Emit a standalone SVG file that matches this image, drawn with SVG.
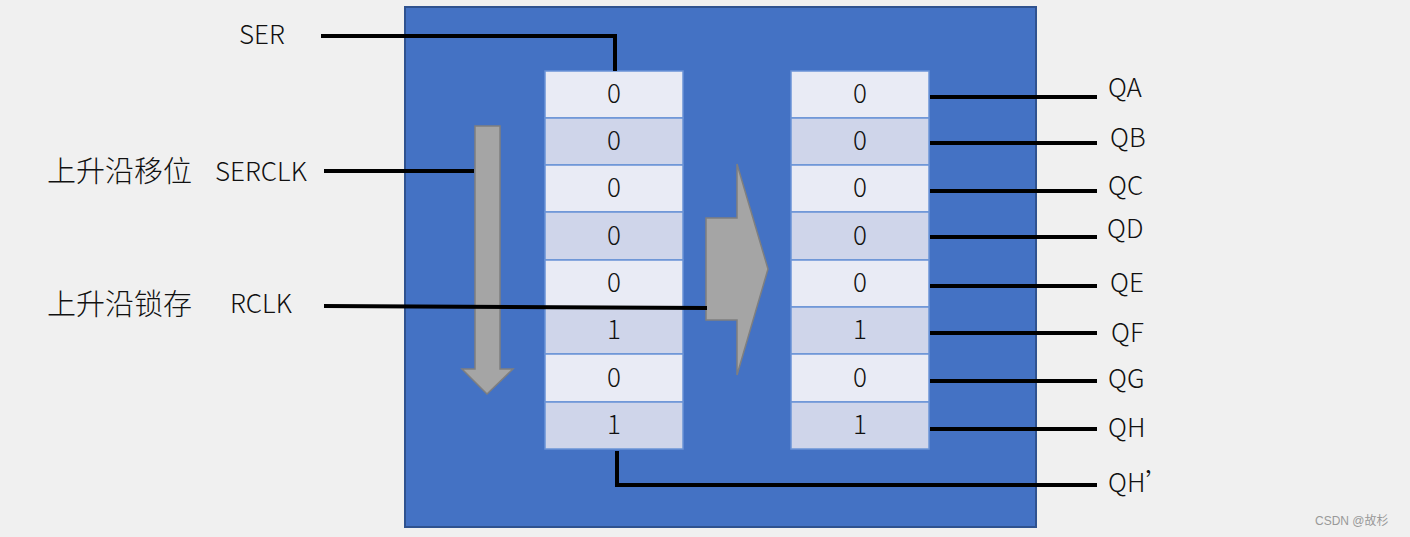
<svg xmlns="http://www.w3.org/2000/svg" width="1410" height="537" viewBox="0 0 1410 537">
<style>
  .lbl{font-family:"Noto Sans CJK SC","Noto Sans",sans-serif;font-size:26px;font-weight:300;fill:#111}
  .cn{font-family:"Noto Sans CJK SC",sans-serif;font-size:29px;font-weight:300;fill:#111}
  .dig{font-family:"Noto Sans CJK SC","Noto Sans",sans-serif;font-size:26px;font-weight:300;fill:#111;text-anchor:middle}
  .c1{fill:#e9ebf5;stroke:#6a93d6;stroke-width:1.5}
  .c2{fill:#cfd5ea;stroke:#6a93d6;stroke-width:1.5}
  .wire{fill:none;stroke:#000;stroke-width:4}
  .arr{fill:#a5a5a5;stroke:#7f7f7f;stroke-width:1.5}
</style>
<rect width="1410" height="537" fill="#f0f0f0"/>
<g id="chip">
  <rect x="405" y="7" width="631" height="520" fill="#4472c4" stroke="#2f528f" stroke-width="2"/>
</g>
<g id="shift-register">
  <rect class="c1" x="545" y="71" width="138" height="47"/>
  <rect class="c2" x="545" y="118" width="138" height="47"/>
  <rect class="c1" x="545" y="165" width="138" height="47"/>
  <rect class="c2" x="545" y="212" width="138" height="48"/>
  <rect class="c1" x="545" y="260" width="138" height="47"/>
  <rect class="c2" x="545" y="307" width="138" height="47"/>
  <rect class="c1" x="545" y="354" width="138" height="48"/>
  <rect class="c2" x="545" y="402" width="138" height="47"/>
  <text class="dig" x="614" y="103">0</text>
  <text class="dig" x="614" y="150">0</text>
  <text class="dig" x="614" y="197">0</text>
  <text class="dig" x="614" y="245">0</text>
  <text class="dig" x="614" y="292">0</text>
  <text class="dig" x="614" y="339">1</text>
  <text class="dig" x="614" y="387">0</text>
  <text class="dig" x="614" y="434">1</text>
</g>
<g id="latch-register">
  <rect class="c1" x="791" y="71" width="138" height="47"/>
  <rect class="c2" x="791" y="118" width="138" height="47"/>
  <rect class="c1" x="791" y="165" width="138" height="47"/>
  <rect class="c2" x="791" y="212" width="138" height="48"/>
  <rect class="c1" x="791" y="260" width="138" height="47"/>
  <rect class="c2" x="791" y="307" width="138" height="47"/>
  <rect class="c1" x="791" y="354" width="138" height="48"/>
  <rect class="c2" x="791" y="402" width="138" height="47"/>
  <text class="dig" x="860" y="103">0</text>
  <text class="dig" x="860" y="150">0</text>
  <text class="dig" x="860" y="197">0</text>
  <text class="dig" x="860" y="245">0</text>
  <text class="dig" x="860" y="292">0</text>
  <text class="dig" x="860" y="339">1</text>
  <text class="dig" x="860" y="387">0</text>
  <text class="dig" x="860" y="434">1</text>
</g>
<g id="shift-arrow">
  <polygon class="arr" points="475,126 500,126 500,369 513,369 487,394 462,369 475,369"/>
</g>
<g id="latch-arrow">
  <polygon class="arr" points="706,218 737,218 737,164 768,269 737,375 737,320 706,320"/>
</g>
<g id="connectors">
  <polyline class="wire" points="321,36 615,36 615,71"/>
  <line class="wire" x1="324" y1="171" x2="474" y2="171"/>
  <line class="wire" x1="324" y1="306" x2="707" y2="308"/>
  <line class="wire" x1="930" y1="97" x2="1097" y2="97"/>
  <line class="wire" x1="930" y1="143" x2="1097" y2="143"/>
  <line class="wire" x1="930" y1="191" x2="1097" y2="191"/>
  <line class="wire" x1="930" y1="237" x2="1097" y2="237"/>
  <line class="wire" x1="930" y1="286" x2="1097" y2="286"/>
  <line class="wire" x1="930" y1="333" x2="1097" y2="333"/>
  <line class="wire" x1="930" y1="381" x2="1097" y2="381"/>
  <line class="wire" x1="930" y1="429" x2="1097" y2="429"/>
  <polyline class="wire" points="617,451 617,485 1097,485"/>
</g>
<g id="inputs">
  <text class="lbl" x="239" y="44">SER</text>
  <text class="cn" x="47" y="182">上升沿移位</text>
  <text class="lbl" x="215" y="181">SERCLK</text>
  <text class="cn" x="47" y="315">上升沿锁存</text>
  <text class="lbl" x="230" y="313">RCLK</text>
</g>
<g id="outputs">
  <text class="lbl" x="1108" y="97">QA</text>
  <text class="lbl" x="1110" y="147">QB</text>
  <text class="lbl" x="1108" y="195">QC</text>
  <text class="lbl" x="1107" y="238">QD</text>
  <text class="lbl" x="1110" y="292">QE</text>
  <text class="lbl" x="1111" y="342">QF</text>
  <text class="lbl" x="1108" y="388">QG</text>
  <text class="lbl" x="1108" y="437">QH</text>
  <text class="lbl" x="1108" y="492">QH’</text>
</g>
<text x="1315" y="525" font-family="Liberation Sans, Noto Sans CJK SC, sans-serif" font-size="12" fill="#999">CSDN @故杉</text>
</svg>
